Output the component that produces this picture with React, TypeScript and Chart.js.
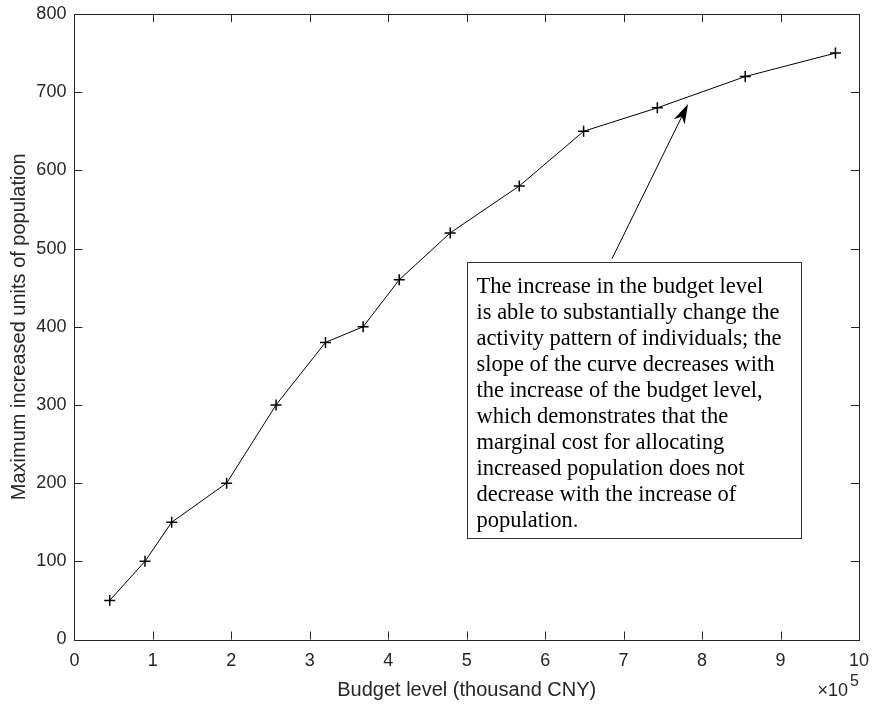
import React, { useEffect, useRef } from "react";
import { Chart, registerables } from "chart.js";

Chart.register(...registerables);

// ---- data ----
const budgetLevels = [45000, 90000, 124000, 194000, 257000, 320000, 368000, 414000, 479000, 567000, 649000, 743000, 855000, 970000];
const maxIncreasedUnits = [50, 100, 150, 200, 300, 380, 400, 460, 520, 580, 650, 680, 720, 750];

const xAxisTitle = "Budget level (thousand CNY)";
const yAxisTitle = "Maximum increased units of population";
const xExponentBase = "\u00d710";
const xExponent = "5";
const xScaleFactor = 100000;

const annotationLines = [
  "The increase in the budget level",
  "is able to substantially change the",
  "activity pattern of individuals; the",
  "slope of the curve decreases with",
  "the increase of the budget level,",
  "which demonstrates that the",
  "marginal cost for allocating",
  "increased population does not",
  "decrease with the increase of",
  "population.",
];
// annotation box corners (data units)
const boxXRange = [500800, 925700];
const boxYRange = [483, 130];
// arrow tail / head (data units)
const arrowFrom = [685200, 487];
const arrowTo = [782100, 685];

const AXIS_COLOR = "#262626";

const overlayPlugin = {
  id: "matlabOverlay",
  afterDraw(chart: any) {
    const { ctx, chartArea, scales } = chart;
    const xs = scales.x;
    const ys = scales.y;
    const { left, right, top, bottom } = chartArea;
    ctx.save();
    // box
    ctx.strokeStyle = AXIS_COLOR;
    ctx.lineWidth = 1;
    ctx.strokeRect(Math.round(left) + 0.5, Math.round(top) + 0.5, Math.round(right - left), Math.round(bottom - top));
    // inward ticks
    const tl = 8;
    ctx.beginPath();
    xs.ticks.forEach((t: any) => {
      const px = Math.round(xs.getPixelForValue(t.value)) + 0.5;
      ctx.moveTo(px, bottom);
      ctx.lineTo(px, bottom - tl);
      ctx.moveTo(px, top);
      ctx.lineTo(px, top + tl);
    });
    ys.ticks.forEach((t: any) => {
      const py = Math.round(ys.getPixelForValue(t.value)) + 0.5;
      ctx.moveTo(left, py);
      ctx.lineTo(left + tl, py);
      ctx.moveTo(right, py);
      ctx.lineTo(right - tl, py);
    });
    ctx.stroke();

    // exponent label
    ctx.fillStyle = AXIS_COLOR;
    ctx.font = '18px "Liberation Sans", Arial, sans-serif';
    ctx.textAlign = "right";
    ctx.textBaseline = "alphabetic";
    ctx.fillText(xExponentBase, right - 11, bottom + 56);
    ctx.font = '16px "Liberation Sans", Arial, sans-serif';
    ctx.textAlign = "left";
    ctx.fillText(xExponent, right - 9, bottom + 46);

    // arrow
    const ax0 = xs.getPixelForValue(arrowFrom[0]);
    const ay0 = ys.getPixelForValue(arrowFrom[1]);
    const ax1 = xs.getPixelForValue(arrowTo[0]);
    const ay1 = ys.getPixelForValue(arrowTo[1]);
    const ang = Math.atan2(ay1 - ay0, ax1 - ax0);
    const headLen = 20;
    const headW = 6;
    const bx = ax1 - headLen * Math.cos(ang);
    const by = ay1 - headLen * Math.sin(ang);
    const nx = ax1 - headLen * 0.7 * Math.cos(ang);
    const ny = ay1 - headLen * 0.7 * Math.sin(ang);
    ctx.strokeStyle = "#000";
    ctx.lineWidth = 1;
    ctx.beginPath();
    ctx.moveTo(ax0, ay0);
    ctx.lineTo(nx, ny);
    ctx.stroke();
    ctx.fillStyle = "#000";
    ctx.beginPath();
    ctx.moveTo(ax1, ay1);
    ctx.lineTo(bx - headW * Math.sin(ang), by + headW * Math.cos(ang));
    ctx.lineTo(nx, ny);
    ctx.lineTo(bx + headW * Math.sin(ang), by - headW * Math.cos(ang));
    ctx.closePath();
    ctx.fill();

    // annotation box
    const bl = Math.round(xs.getPixelForValue(boxXRange[0])) + 0.5;
    const br = Math.round(xs.getPixelForValue(boxXRange[1])) + 0.5;
    const bt = Math.round(ys.getPixelForValue(boxYRange[0])) + 0.5;
    const bb = Math.round(ys.getPixelForValue(boxYRange[1])) + 0.5;
    ctx.fillStyle = "#fff";
    ctx.fillRect(bl, bt, br - bl, bb - bt);
    ctx.strokeStyle = "#333";
    ctx.lineWidth = 1;
    ctx.strokeRect(bl, bt, br - bl, bb - bt);
    ctx.fillStyle = "#000";
    ctx.font = '22.5px "Liberation Serif", "Times New Roman", serif';
    ctx.textAlign = "left";
    ctx.textBaseline = "middle";
    annotationLines.forEach((line, i) => {
      ctx.fillText(line, bl + 9, bt + 25 + i * 26);
    });
    ctx.restore();
  },
};

export default function App() {
  const canvasRef = useRef<HTMLCanvasElement | null>(null);

  useEffect(() => {
    const canvas = canvasRef.current;
    if (!canvas) return;
    const points = budgetLevels.map((x, i) => ({ x, y: maxIncreasedUnits[i] }));
    const chart = new Chart(canvas, {
      type: "line",
      data: {
        datasets: [
          {
            data: points,
            borderColor: "#000",
            borderWidth: 1,
            backgroundColor: "#000",
            pointStyle: "cross",
            pointRadius: 5.5,
            pointBorderWidth: 1.5,
            pointBorderColor: "#000",
            fill: false,
            tension: 0,
          },
        ],
      },
      options: {
        responsive: false,
        animation: false,
        devicePixelRatio: 1,
        layout: { padding: { top: 14, right: 14, left: 0, bottom: 0 } },
        plugins: {
          legend: { display: false },
          tooltip: { enabled: false },
        },
        scales: {
          x: {
            type: "linear",
            min: 0,
            max: 1000000,
            grid: { display: false, drawTicks: false },
            border: { display: false },
            ticks: {
              stepSize: 100000,
              autoSkip: false,
              maxRotation: 0,
              padding: 11,
              color: AXIS_COLOR,
              font: { family: '"Liberation Sans", Arial, sans-serif', size: 18 },
              callback: (v: any) => String(Number(v) / xScaleFactor),
            },
            title: {
              display: true,
              text: xAxisTitle,
              color: AXIS_COLOR,
              font: { family: '"Liberation Sans", Arial, sans-serif', size: 20 },
              padding: { top: 0, bottom: 5 },
            },
            afterFit: (scale: any) => {
              scale.height = 67.5;
              scale.paddingLeft = 0;
              scale.paddingRight = 0;
            },
          },
          y: {
            min: 0,
            max: 800,
            grid: { display: false, drawTicks: false },
            border: { display: false },
            ticks: {
              stepSize: 100,
              padding: 8,
              color: AXIS_COLOR,
              font: { family: '"Liberation Sans", Arial, sans-serif', size: 18 },
            },
            title: {
              display: true,
              text: yAxisTitle,
              color: AXIS_COLOR,
              font: { family: '"Liberation Sans", Arial, sans-serif', size: 20 },
              padding: { top: 7, bottom: 0 },
            },
            afterFit: (scale: any) => {
              scale.width = 74.4;
              scale.paddingTop = 0;
              scale.paddingBottom = 0;
            },
          },
        },
      },
      plugins: [overlayPlugin],
    });
    return () => chart.destroy();
  }, []);

  return (
    <div style={{ position: "fixed", left: 0, top: 0, width: 873, height: 707, background: "#fff" }}>
      <canvas ref={canvasRef} width={873} height={707} style={{ width: 873, height: 707, display: "block" }} />
    </div>
  );
}
